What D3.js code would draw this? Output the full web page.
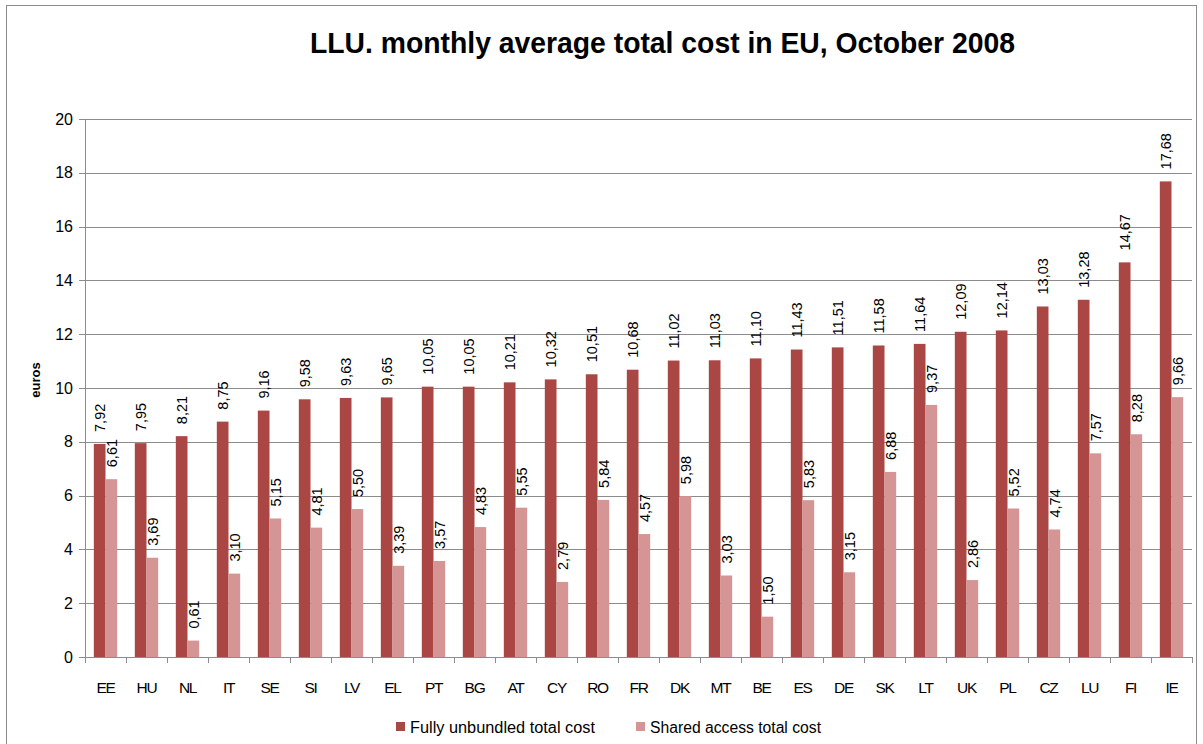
<!DOCTYPE html>
<html><head><meta charset="utf-8">
<script src="https://cdn.jsdelivr.net/npm/d3@7"></script>
<style>body{margin:0;background:#fff}svg{display:block}text{font-family:"Liberation Sans",Arial,sans-serif}</style>
</head><body>
<svg id="c" width="1203" height="744"></svg>
<script>
const categories = ["EE","HU","NL","IT","SE","SI","LV","EL","PT","BG","AT","CY","RO","FR","DK","MT","BE","ES","DE","SK","LT","UK","PL","CZ","LU","FI","IE"];
const fullyUnbundled = [7.92,7.95,8.21,8.75,9.16,9.58,9.63,9.65,10.05,10.05,10.21,10.32,10.51,10.68,11.02,11.03,11.10,11.43,11.51,11.58,11.64,12.09,12.14,13.03,13.28,14.67,17.68];
const sharedAccess = [6.61,3.69,0.61,3.10,5.15,4.81,5.50,3.39,3.57,4.83,5.55,2.79,5.84,4.57,5.98,3.03,1.50,5.83,3.15,6.88,9.37,2.86,5.52,4.74,7.57,8.28,9.66];
const seriesNames = ["Fully unbundled total cost","Shared access total cost"];
const yTicks = [0,2,4,6,8,10,12,14,16,18,20];
const titleText = "LLU. monthly average total cost in EU, October 2008";
const colors = ["#AA4643","#D59594"];

const svg = d3.select("#c");
svg.append("rect").attr("x",6.5).attr("y",5.5).attr("width",1190).attr("height",745)
  .attr("fill","#fff").attr("stroke","#8c8c8c").attr("stroke-width",1);

const L=85, R=1192, T=119, B=657;
const x = d3.scaleBand().domain(categories).range([L,R]).padding(0);
const y = d3.scaleLinear().domain([0,20]).range([B,T]);
const inner = d3.scaleBand().domain([0,1]).range([0, x.bandwidth()*0.57]);
const off = (x.bandwidth() - x.bandwidth()*0.57)/2;

const g = svg.append("g");
g.selectAll("line.grid").data(yTicks).join("line")
  .attr("x1",L-6).attr("x2",R).attr("y1",d=>Math.round(y(d))+0.5).attr("y2",d=>Math.round(y(d))+0.5)
  .attr("stroke","#8c8c8c").attr("stroke-width",1);
g.selectAll("text.yt").data(yTicks).join("text")
  .attr("x",L-12).attr("y",d=>y(d)).attr("dy","0.35em").attr("text-anchor","end")
  .attr("font-size",16).attr("fill","#000").text(d=>d);
g.append("line").attr("x1",L+0.5).attr("x2",L+0.5).attr("y1",T).attr("y2",B).attr("stroke","#8c8c8c");

const bounds = categories.map(c=>x(c)).concat([R]);
g.selectAll("line.xt").data(bounds).join("line")
  .attr("x1",d=>Math.round(d)+0.5).attr("x2",d=>Math.round(d)+0.5).attr("y1",B).attr("y2",B+6)
  .attr("stroke","#8c8c8c");

const series = [fullyUnbundled, sharedAccess];
series.forEach((vals,si)=>{
  const gs = svg.append("g");
  gs.selectAll("rect").data(vals).join("rect")
    .attr("x",(d,i)=>x(categories[i])+off+inner(si))
    .attr("y",d=>y(d)).attr("width",inner.bandwidth()).attr("height",d=>B-y(d))
    .attr("fill",colors[si]);
  gs.selectAll("text").data(vals).join("text")
    .attr("transform",(d,i)=>{
      const cx = x(categories[i])+off+inner(si)+inner.bandwidth()/2;
      return `translate(${cx+5.5},${y(d)-12}) rotate(-90)`;
    })
    .attr("font-size",14.5).attr("fill","#000")
    .text(d=>d.toFixed(2).replace(".",","));
});
svg.append("line").attr("x1",L).attr("x2",R).attr("y1",B+0.5).attr("y2",B+0.5).attr("stroke","#8c8c8c");

svg.selectAll("text.xl").data(categories).join("text")
  .attr("x",d=>x(d)+x.bandwidth()/2).attr("y",693).attr("text-anchor","middle")
  .attr("font-size",15.5).attr("letter-spacing","-1.3").attr("fill","#000").text(d=>d);

svg.append("text").attr("x",310).attr("y",53).attr("font-size",30).attr("font-weight","bold")
  .attr("textLength",705).attr("lengthAdjust","spacingAndGlyphs").text(titleText);

svg.append("text").attr("transform","translate(40,380) rotate(-90)").attr("text-anchor","middle")
  .attr("font-size",13).attr("font-weight","bold").text("euros");

const leg = [{x:396,t:seriesNames[0],w:185},{x:636,t:seriesNames[1],w:171}];
leg.forEach((l,i)=>{
  svg.append("rect").attr("x",l.x).attr("y",722).attr("width",9).attr("height",9).attr("fill",colors[i]);
  svg.append("text").attr("x",l.x+14).attr("y",733).attr("font-size",16)
    .attr("textLength",l.w).attr("lengthAdjust","spacingAndGlyphs").text(l.t);
});
</script>
</body></html>
